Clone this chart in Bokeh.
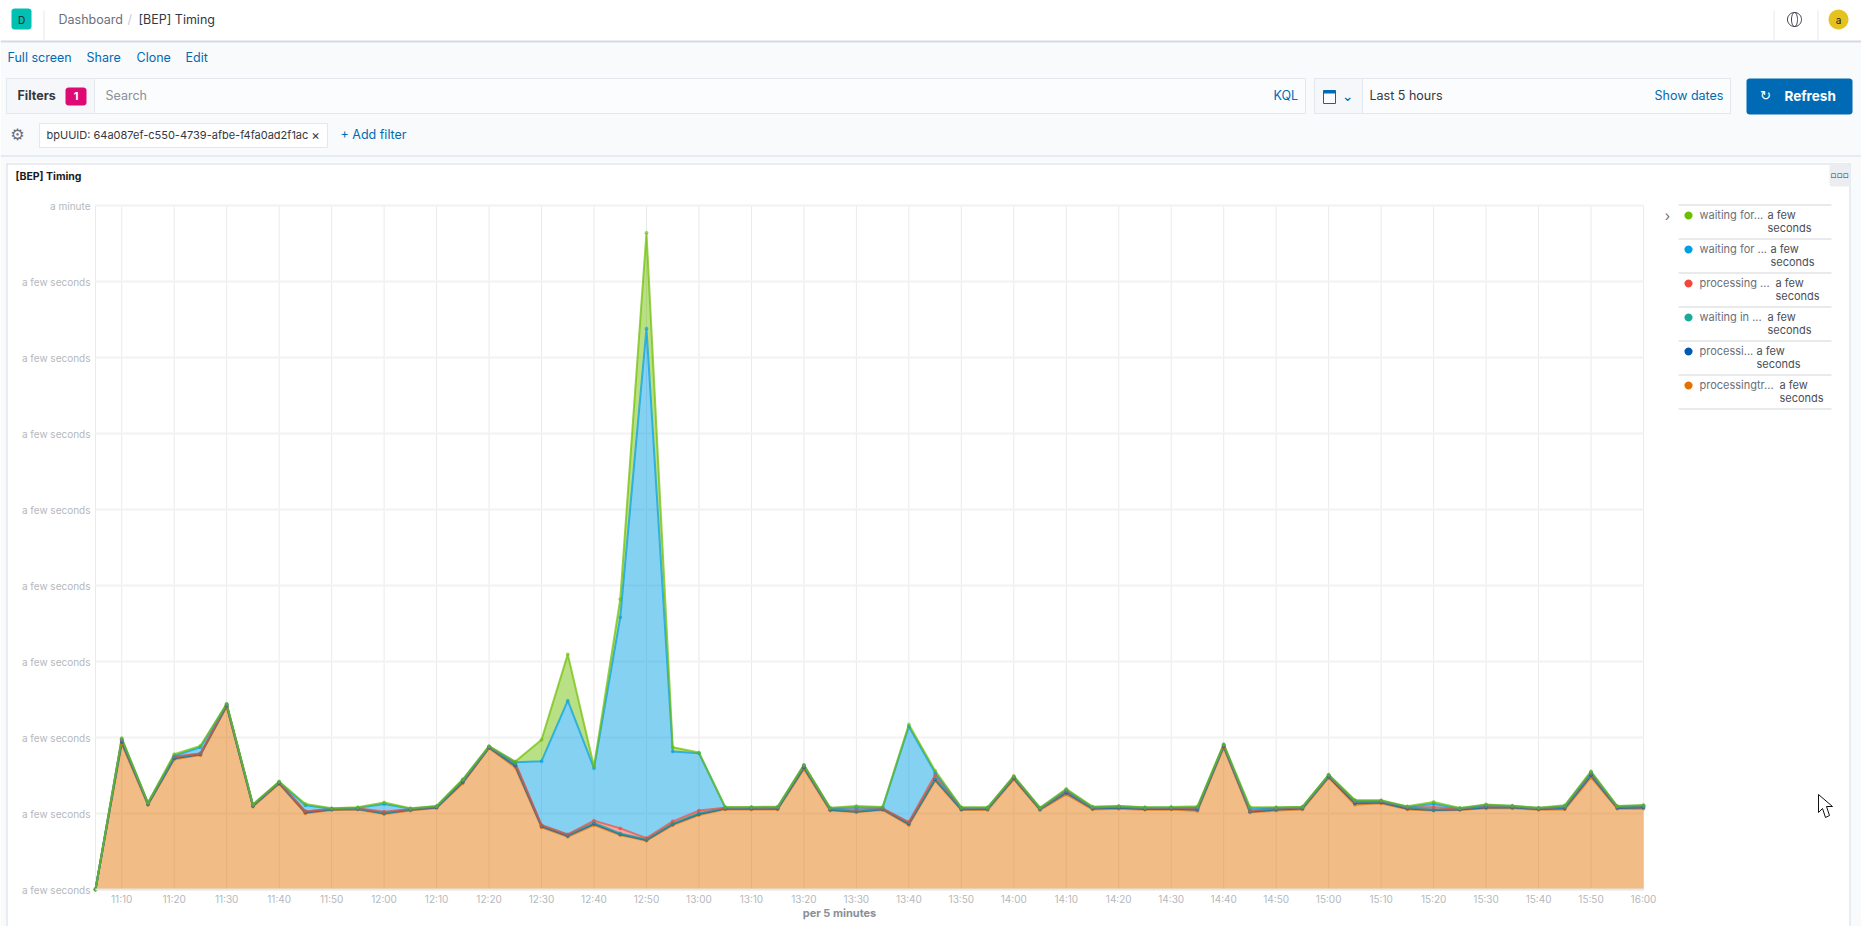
import numpy as np
import pandas as pd
from bokeh.plotting import figure
from bokeh.core.properties import value
from bokeh.models import ColumnDataSource, Range1d, FixedTicker, DatetimeTickFormatter
from bokeh.transform import stack
from bokeh.embed import file_html
from bokeh.resources import INLINE

# ---- data (seconds per series, stacked bottom to top) ----
times = pd.date_range("2020-01-01 11:05", "2020-01-01 16:00", freq="5min")
processingtr = [0, 9.58, 5.56, 8.57, 8.84, 12.02, 5.45, 6.95, 5.01, 5.23, 5.27, 4.97, 5.19, 5.36, 6.99, 9.30, 8.04, 4.09, 3.47, 4.24,
                3.58, 3.21, 4.24, 4.90, 5.27, 5.27, 5.27, 7.93, 5.19, 5.10, 5.23, 4.24, 7.16, 5.23, 5.23, 7.25, 5.23, 6.26, 5.27, 5.32,
                5.25, 5.27, 5.16, 9.34, 5.08, 5.19, 5.27, 7.36, 5.58, 5.67, 5.27, 5.19, 5.23, 5.34, 5.34, 5.25, 5.27, 7.38, 5.32, 5.32]
processing_a = [0, .12, .05, .06, .05, .07, .05, .05, .06, .04, .02, .04, .05, .04, .08, .04, .11, .07, .07, .08,
                .06, .05, .06, .07, .05, .05, .05, .09, .06, .02, .05, .08, .08, .05, .06, .07, .05, .11, .06, .06,
                .05, .05, .10, .07, .04, .07, .06, .06, .10, .06, .06, .04, .04, .06, .05, .04, .08, .13, .05, .08]
waiting_in = [0, .12, .04, .07, .06, .06, .05, .05, .07, .03, .02, .04, .04, .04, .08, .04, .11, .06, .06, .08,
              .05, .04, .05, .06, .04, .05, .05, .09, .05, .02, .04, .08, .08, .05, .05, .06, .04, .10, .05, .05,
              .05, .04, .08, .07, .04, .06, .05, .06, .10, .06, .06, .04, .04, .06, .05, .04, .07, .12, .05, .07]
processing_b = [0, .04, .02, .05, .00, .02, .01, .01, .00, .01, .03, .06, .02, .01, .04, .01, .09, .02, .02, .13,
                .33, .08, .13, .16, .02, .01, .02, .03, .02, .13, .02, .04, .22, .02, .02, .02, .02, .04, .02, .02,
                .02, .02, .03, .02, .02, .03, .02, .02, .03, .02, .02, .14, .01, .06, .03, .01, .03, .04, .02, .02]
waiting_for_a = [0, .04, .02, .04, .41, .02, .02, .02, .40, .01, .04, .52, .02, .02, .02, .02, .02, 4.20, 8.80, 3.45,
                 13.88, 33.52, 4.60, 3.78, .02, .02, .03, .03, .03, .14, .05, 6.29, .15, .03, .02, .03, .02, .05, .02, .02,
                 .02, .02, .04, .03, .15, .03, .02, .03, .03, .03, .03, .22, .02, .04, .02, .02, .05, .05, .02, .03]
waiting_for_b = [0, .06, .02, .11, .09, .03, .02, .02, .09, .02, .03, .09, .02, .02, .04, .02, .05, 1.41, 3.05, .11,
                 1.20, 6.30, .28, .04, .03, .03, .03, .03, .03, .08, .04, .13, .13, .03, .03, .04, .02, .06, .03, .02,
                 .02, .03, .06, .03, .10, .03, .03, .03, .05, .03, .03, .13, .02, .04, .02, .02, .04, .06, .03, .04]

y_ticks = [0, 5, 10, 15, 20, 25, 30, 35, 40, 45]
y_tick_labels = ["a few seconds"] * 9 + ["a minute"]
x_tick_times = pd.date_range("2020-01-01 11:10", "2020-01-01 16:00", freq="10min")
legend_names = ["waiting for...", "waiting for ...", "processing ...", "waiting in ...", "processi...", "processingtr..."]
legend_value = "a few"
legend_value2 = "seconds"
legend_value_x = [1767, 1770, 1775, 1767, 1756, 1779]
legend_colors = ["#6CBE00", "#009FE3", "#F2483C", "#1FA79C", "#0058B0", "#E27200"]

names = ["s1", "s2", "s3", "s4", "s5", "s6"]
stack_colors = legend_colors[::-1]
source = ColumnDataSource(dict(x=times, s1=processingtr, s2=processing_a, s3=waiting_in,
                               s4=processing_b, s5=waiting_for_a, s6=waiting_for_b))


def ms(t):
    return t.value / 1e6


t0, t1 = ms(times[0]), ms(times[-1])
FL, FR, FT, FB = 95, 1643, 205, 889
W, H = 1861, 926
OX, OY = 0, 0


def X(px):
    return t0 + (px + OX - FL) / (FR - FL) * (t1 - t0)


def Y(py):
    return (FB - py - OY) / (FB - FT) * 45


p = figure(x_axis_type="datetime", x_range=Range1d(X(0), X(W)), y_range=Range1d(Y(H), Y(0)),
           width=W, height=H, min_border=0,
           output_backend="svg", toolbar_location=None, tools="",
           border_fill_color="white", background_fill_color="white")
p.outline_line_color = None
p.grid.visible = False

# axes drawn at the chart's own origin
p.xaxis.fixed_location = 0
p.yaxis.fixed_location = t0
p.xaxis.bounds = (t0, t1)
p.yaxis.bounds = (0, 45)
p.xaxis.ticker = FixedTicker(ticks=[ms(t) for t in x_tick_times])
p.xaxis.formatter = DatetimeTickFormatter(seconds="%H:%M", minsec="%H:%M", minutes="%H:%M", hourmin="%H:%M",
                                          hours="%H:%M", days="%H:%M", months="%H:%M", years="%H:%M", context=None)
p.yaxis.ticker = FixedTicker(ticks=y_ticks)
p.yaxis.major_label_overrides = dict(zip(y_ticks, y_tick_labels))
for ax in (p.xaxis[0], p.yaxis[0]):
    ax.major_tick_line_color = None
    ax.minor_tick_line_color = None
    ax.major_label_text_font = "Inter"
    ax.major_label_text_font_size = "10px"
    ax.major_label_text_color = "#B4B8BD"
p.xaxis.axis_line_color = "#E6E8EC"
p.xaxis.axis_line_width = 2
p.yaxis.axis_line_color = None
p.xaxis.major_label_standoff = -3
p.yaxis.major_label_standoff = -1

# ---- page furniture ----


def box(l, t, r, b, color, line=None):
    p.quad(left=[X(l)], right=[X(r)], top=[Y(t)], bottom=[Y(b)], fill_color=color,
           line_color=line, level="underlay")


def rbox(l, t, r, b, color, rad=3):
    a = np.linspace(0, np.pi / 2, 6)
    px = np.concatenate([r - rad + rad * np.sin(a), r - rad + rad * np.cos(a), l + rad - rad * np.sin(a), l + rad - rad * np.cos(a)])
    py = np.concatenate([t + rad - rad * np.cos(a), b - rad + rad * np.sin(a), b - rad + rad * np.cos(a), t + rad - rad * np.sin(a)])
    p.patch(X(px), Y(py), fill_color=color, line_color=None, level="underlay")


def ring(cx, cy, rx, ry, color):
    a = np.linspace(0, 2 * np.pi, 48)
    p.line(X(cx + rx * np.cos(a)), Y(cy + ry * np.sin(a)), line_color=color, line_width=1, level="underlay")


def txt(x, y, s, size=12.5, color="#343741", weight="normal", align="left", font="Inter"):
    p.text(x=[X(x)], y=[Y(y)], text=[s], text_font=value(font), text_font_size=value(f"{size}px"), text_color=color,
           text_font_style=weight, text_align=align, text_baseline="middle", level="overlay")


BG = "#F9FAFC"
EDGE = "#D3DAE6"
LINK = "#006BB4"
box(0, 42, W, 162, BG)
box(0, 162, 6, H, BG)
box(1850, 162, W, H, BG)
box(0, 40, W, 42, EDGE)
box(0, 155, W, 156, EDGE)
box(6, 163, 1850, 164, EDGE)
box(6, 163, 7, H, EDGE)
box(1849, 163, 1850, H, EDGE)

# grid, under the areas
x_grid = [t0] + [ms(t) for t in x_tick_times]
p.segment(x0=x_grid, x1=x_grid, y0=[0] * len(x_grid), y1=[45] * len(x_grid), line_color="#E9EAED", line_width=1, level="underlay")
p.segment(x0=[t0] * len(y_ticks), x1=[t1] * len(y_ticks), y0=y_ticks, y1=y_ticks, line_color="#F2F2F4", line_width=2, level="underlay")

# stacked areas
p.varea_stack(names, x="x", color=stack_colors, fill_alpha=0.48, source=source)
p.vline_stack(names, x="x", color=stack_colors, line_width=2, line_alpha=0.7, source=source)
for i, c in enumerate(stack_colors):
    p.scatter(x="x", y=stack(*names[:i + 1]), size=3, color=c, alpha=0.5, source=source)

# header
rbox(11, 8, 31, 29, "#00BFB3", 3)
txt(21, 19, "D", 10, "#1a1c21", align="center")
box(43, 10, 44, 40, "#E6E9EF")
txt(58, 19, "Dashboard", 12.5, "#69707D")
txt(127, 19, "/", 12.5, "#C6CBD3")
txt(138, 19, "[BEP] Timing", 12.5, "#343741")
box(1773, 10, 1774, 40, "#E6E9EF")
box(1817, 10, 1818, 40, "#E6E9EF")
ring(1794, 19, 7, 7, "#343741")
ring(1794, 19, 3, 7, "#343741")
rbox(1828, 9, 1848, 29, "#E6C220", 10)
txt(1838, 19, "a", 10, "#1a1c21", align="center")

# menu
txt(7, 57, "Full screen", 12.5, LINK)
txt(86, 57, "Share", 12.5, LINK)
txt(136, 57, "Clone", 12.5, LINK)
txt(185, 57, "Edit", 12.5, LINK)

# filter bar
box(6, 78, 1305, 113, "#FBFCFD", line="#E3E7EE")
box(6, 78, 94, 113, "#F5F7FA", line="#E3E7EE")
txt(17, 95, "Filters", 12.5, "#343741", "bold")
rbox(65, 87, 86, 105, "#DD0A73", 3)
txt(75.5, 95, "1", 11, "#FFFFFF", "bold", "center")
txt(105, 95, "Search", 12.5, "#8A8F98")
txt(1273, 95, "KQL", 12.5, LINK)
box(1314, 78, 1730, 113, "#FBFCFD", line="#E3E7EE")
box(1314, 78, 1362, 113, "#F5F7FA", line="#E3E7EE")
box(1323, 90, 1335, 103, "#FBFCFD", line=LINK)
box(1323, 90, 1335, 93, LINK)
txt(1347, 95, "\u2304", 14, LINK, align="center", font="DejaVu Sans")
txt(1369, 95, "Last 5 hours", 12.5, "#343741")
txt(1654, 95, "Show dates", 12.5, LINK)
rbox(1746, 78, 1852, 114, LINK, 3)
txt(1765, 95, "\u21bb", 13, "#FFFFFF", align="center", font="DejaVu Sans")
txt(1784, 95, "Refresh", 13.5, "#FFFFFF", "bold")

# filter pill
txt(17, 134, "\u2699", 16, "#69707D", align="center", font="DejaVu Sans")
box(39, 123, 327, 147, "#FFFFFF", line="#E3E7EE")
txt(46, 134, "bpUUID: 64a087ef-c550-4739-afbe-f4fa0ad2f1ac", 11, "#343741")
txt(315, 134, "\u00d7", 13, "#343741", align="center")
txt(340, 134, "+ Add filter", 12.5, LINK)

# panel header
txt(15, 176, "[BEP] Timing", 10.5, "#1a1c21", "bold")
rbox(1829, 164, 1849, 186, "#EBEDF0", 2)
txt(1839, 174, "\u25ab\u25ab\u25ab", 9, "#343741", align="center", font="DejaVu Sans")

# x title
txt(839, 912, "per 5 minutes", 11, "#8A8F98", "bold", "center")

# legend
txt(1667, 215, "\u203a", 14, "#69707D", align="center")
for i, (name, c, vx) in enumerate(zip(legend_names, legend_colors, legend_value_x)):
    top = 204 + 34 * i
    box(1678, top, 1831, top + 1, "#D3D6DA")
    rbox(1684, top + 7, 1692, top + 15, c, 4)
    txt(1699, top + 10, name, 11, "#6B7078")
    txt(vx, top + 10, legend_value, 11, "#4A4F57")
    txt(vx, top + 23, legend_value2, 11, "#4A4F57")
box(1678, 408, 1831, 409, "#D3D6DA")

# mouse pointer
cx = np.array([1818, 1818, 1822, 1825, 1829, 1826, 1832])
cy = np.array([794, 812, 808, 817, 815, 806, 806])
p.patch(X(cx), Y(cy), fill_color="white", line_color="#111111", line_width=1)

open("out.html", "w").write(file_html(p, INLINE))
